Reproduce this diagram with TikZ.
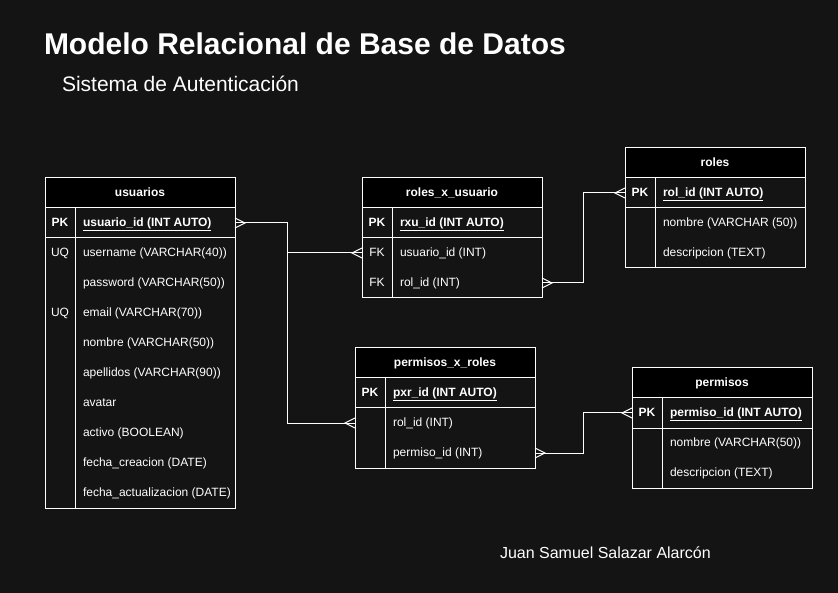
\documentclass[tikz,border=0pt]{standalone}
\usepackage{fontspec}
\setmainfont{Liberation Sans}
\usetikzlibrary{positioning}
\definecolor{bg}{HTML}{141414}
\begin{document}
\begin{tikzpicture}
[x=1pt, y=-1pt, line width=1pt,
 nodes={text=white, inner sep=0pt, outer sep=0pt, text height=.8em, text depth=.1em, font=\fontsize{12}{14}\selectfont},
 head/.style={draw=white, fill=black, font=\fontsize{12}{14}\selectfont\bfseries, minimum height=30pt, anchor=north west},
 key/.style={minimum width=30pt, minimum height=30pt},
 fld/.style={right=8pt of #1},
 box/.style={draw=white},
 link/.style={draw=white},
 crow/.pic={\draw[link] (0,-5) -- (10,0) -- (0,5);}]
\fill[bg] (0,0) rectangle (838,593);
\useasboundingbox (0,0) rectangle (838,593);

\node[anchor=base west, font=\fontsize{30}{34}\selectfont\bfseries] (title) at (44,55) {Modelo Relacional de Base de Datos};
\node[anchor=base west, font=\fontsize{21}{24}\selectfont] (subtitle) at (62,92) {Sistema de Autenticación};
\node[anchor=base west, font=\fontsize{16}{19}\selectfont] (author) at (500,558) {Juan Samuel Salazar Alarcón};

% usuarios
\node[head, minimum width=190pt] (u) at (45,178) {usuarios};
\node[key, anchor=north west] (u-pk) at (u.south west) {\textbf{PK}};
\node[fld=u-pk] (u-pkf) {\textbf{\underline{usuario\_id (INT AUTO)}}};
\node[key, below=0pt of u-pk] (u-1) {UQ};
\node[fld=u-1] (u-1f) {username (VARCHAR(40))};
\node[key, below=0pt of u-1] (u-2) {};
\node[fld=u-2] (u-2f) {password (VARCHAR(50))};
\node[key, below=0pt of u-2] (u-3) {UQ};
\node[fld=u-3] (u-3f) {email (VARCHAR(70))};
\node[key, below=0pt of u-3] (u-4) {};
\node[fld=u-4] (u-4f) {nombre (VARCHAR(50))};
\node[key, below=0pt of u-4] (u-5) {};
\node[fld=u-5] (u-5f) {apellidos (VARCHAR(90))};
\node[key, below=0pt of u-5] (u-6) {};
\node[fld=u-6] (u-6f) {avatar};
\node[key, below=0pt of u-6] (u-7) {};
\node[fld=u-7] (u-7f) {activo (BOOLEAN)};
\node[key, below=0pt of u-7] (u-8) {};
\node[fld=u-8] (u-8f) {fecha\_creacion (DATE)};
\node[key, below=0pt of u-8] (u-9) {};
\node[fld=u-9] (u-9f) {fecha\_actualizacion (DATE)};
\draw[box] (u-pk.north west) rectangle (u.east |- u-pk.south);
\draw[box] (u-1.north west) rectangle (u.east |- u-9.south);
\draw[box] (u-pk.north east) -- (u-9.south east);

% roles_x_usuario
\node[head, minimum width=180pt] (rxu) at (362,178) {roles\_x\_usuario};
\node[key, anchor=north west] (rxu-pk) at (rxu.south west) {\textbf{PK}};
\node[fld=rxu-pk] (rxu-pkf) {\textbf{\underline{rxu\_id (INT AUTO)}}};
\node[key, below=0pt of rxu-pk] (rxu-1) {FK};
\node[fld=rxu-1] (rxu-1f) {usuario\_id (INT)};
\node[key, below=0pt of rxu-1] (rxu-2) {FK};
\node[fld=rxu-2] (rxu-2f) {rol\_id (INT)};
\draw[box] (rxu-pk.north west) rectangle (rxu.east |- rxu-pk.south);
\draw[box] (rxu-1.north west) rectangle (rxu.east |- rxu-2.south);
\draw[box] (rxu-pk.north east) -- (rxu-2.south east);

% roles
\node[head, minimum width=180pt] (r) at (625,148) {roles};
\node[key, anchor=north west] (r-pk) at (r.south west) {\textbf{PK}};
\node[fld=r-pk] (r-pkf) {\textbf{\underline{rol\_id (INT AUTO)}}};
\node[key, below=0pt of r-pk] (r-1) {};
\node[fld=r-1] (r-1f) {nombre (VARCHAR (50))};
\node[key, below=0pt of r-1] (r-2) {};
\node[fld=r-2] (r-2f) {descripcion (TEXT)};
\draw[box] (r-pk.north west) rectangle (r.east |- r-pk.south);
\draw[box] (r-1.north west) rectangle (r.east |- r-2.south);
\draw[box] (r-pk.north east) -- (r-2.south east);

% permisos_x_roles
\node[head, minimum width=180pt] (pxr) at (355,348) {permisos\_x\_roles};
\node[key, anchor=north west] (pxr-pk) at (pxr.south west) {\textbf{PK}};
\node[fld=pxr-pk] (pxr-pkf) {\textbf{\underline{pxr\_id (INT AUTO)}}};
\node[key, below=0pt of pxr-pk] (pxr-1) {};
\node[fld=pxr-1] (pxr-1f) {rol\_id (INT)};
\node[key, below=0pt of pxr-1] (pxr-2) {};
\node[fld=pxr-2] (pxr-2f) {permiso\_id (INT)};
\draw[box] (pxr-pk.north west) rectangle (pxr.east |- pxr-pk.south);
\draw[box] (pxr-1.north west) rectangle (pxr.east |- pxr-2.south);
\draw[box] (pxr-pk.north east) -- (pxr-2.south east);

% permisos
\node[head, minimum width=180pt] (p) at (632,368) {permisos};
\node[key, anchor=north west] (p-pk) at (p.south west) {\textbf{PK}};
\node[fld=p-pk] (p-pkf) {\textbf{\underline{permiso\_id (INT AUTO)}}};
\node[key, below=0pt of p-pk] (p-1) {};
\node[fld=p-1] (p-1f) {nombre (VARCHAR(50))};
\node[key, below=0pt of p-1] (p-2) {};
\node[fld=p-2] (p-2f) {descripcion (TEXT)};
\draw[box] (p-pk.north west) rectangle (p.east |- p-pk.south);
\draw[box] (p-1.north west) rectangle (p.east |- p-2.south);
\draw[box] (p-pk.north east) -- (p-2.south east);

% relations
\draw[link] (u.east |- u-pk) -- ++(52,0) |- (rxu-1.west);
\draw[link] (u.east |- u-pk) -- ++(52,0) |- (pxr-1.west);
\draw[link] (rxu.east |- rxu-2) -- ++(41,0) |- (r-pk.west);
\draw[link] (pxr.east |- pxr-2) -- ++(48,0) |- (p-pk.west);
\pic at (u.east |- u-pk) {crow};
\pic at (rxu.east |- rxu-2) {crow};
\pic at (pxr.east |- pxr-2) {crow};
\pic[xscale=-1] at (rxu-1.west) {crow};
\pic[xscale=-1] at (pxr-1.west) {crow};
\pic[xscale=-1] at (r-pk.west) {crow};
\pic[xscale=-1] at (p-pk.west) {crow};
\end{tikzpicture}
\end{document}
